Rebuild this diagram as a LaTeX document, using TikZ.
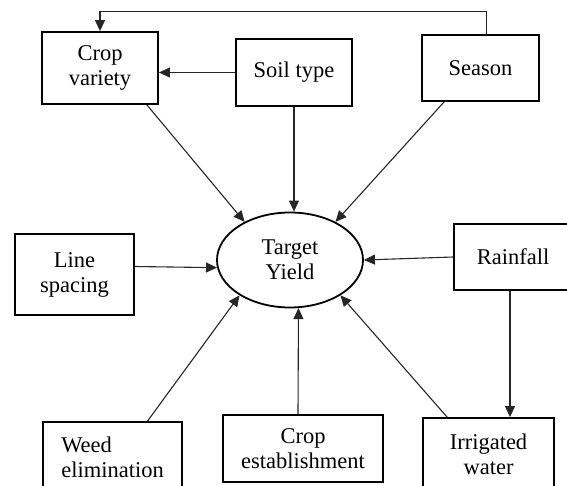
\documentclass[tikz,border=0pt]{standalone}
\usepackage{fontspec}
\setmainfont{Liberation Serif}
\usetikzlibrary{arrows.meta,shapes.geometric}
\newcommand{\factor}[4]{\node[factor,#2] (#1) at (#3) {#4};}

\begin{document}
\begin{tikzpicture}[
      x=1pt, y=-1pt,
      factor/.style={rectangle, draw=black, line width=1.8pt, inner sep=0pt, align=center, font=\fontsize{22.5}{25}\selectfont},
      goal/.style={ellipse, draw=black, line width=1.8pt, inner sep=0pt, minimum width=146pt, minimum height=95pt, align=center, font=\fontsize{22.5}{25}\selectfont},
      pointer/.style={line width=1.1pt, draw=black!85, -{Triangle[length=11pt,width=10pt]}}
      ]

      % The page is the reference frame; the lower and right boxes run past it
      \clip (0,0) rectangle (567,486);

      % The ellipse in the middle, every factor points at it
      \node[goal] (target) at (290,260) {Target\\Yield};

      % Top row
      \factor{crop}{minimum width=116pt, minimum height=72pt}{100,68}{Crop\\variety}
      \factor{soil}{minimum width=116pt, minimum height=67pt}{294,72.5}{Soil type}
      \factor{season}{minimum width=117pt, minimum height=66pt}{480.5,68}{Season}

      % Middle row
      \factor{linesp}{minimum width=119pt, minimum height=81pt}{74.5,274.5}{Line\\spacing}
      \factor{rain}{minimum width=118pt, minimum height=66pt}{513,257}{Rainfall}

      % Bottom row (cut by the lower edge of the page)
      \factor{weed}{minimum width=139pt, minimum height=70pt, align=left}{112.5,457}{Weed\\elimination}
      \factor{cropest}{minimum width=160pt, minimum height=67pt}{303,448.5}{Crop\\establishment}
      \factor{irrig}{minimum width=131pt, minimum height=72pt}{488.5,454}{Irrigated\\water}

      % Season also acts on the crop variety, over the top
      \draw[pointer] ([xshift=6pt]season.north) |- ([yshift=20pt]crop.north) -- (crop.north);
      \path (soil.west) edge [pointer] (soil.west -| crop.east);

      % Now the pointers into the target
      \path (soil.south) edge [pointer] (soil.south |- target.north);
      \path ([xshift=-12pt]crop.south east) edge [pointer] (target.140);
      \path ([xshift=23pt]season.south west) edge [pointer] (target.40);
      \path ([yshift=8pt]linesp.east) edge [pointer] (target.186);
      \path (rain.west) edge [pointer] (target.east);
      \path ([xshift=35pt]weed.north) edge [pointer] (target.215);
      \path ([xshift=-5pt]cropest.north) edge [pointer] (target.280);
      \path ([xshift=25pt]irrig.north west) edge [pointer] (target.325);

      % Rainfall feeds the irrigated water
      \path ([xshift=-3pt]rain.south) edge [pointer] ([xshift=-3pt]rain.south |- irrig.north);
    \end{tikzpicture}
\end{document}
